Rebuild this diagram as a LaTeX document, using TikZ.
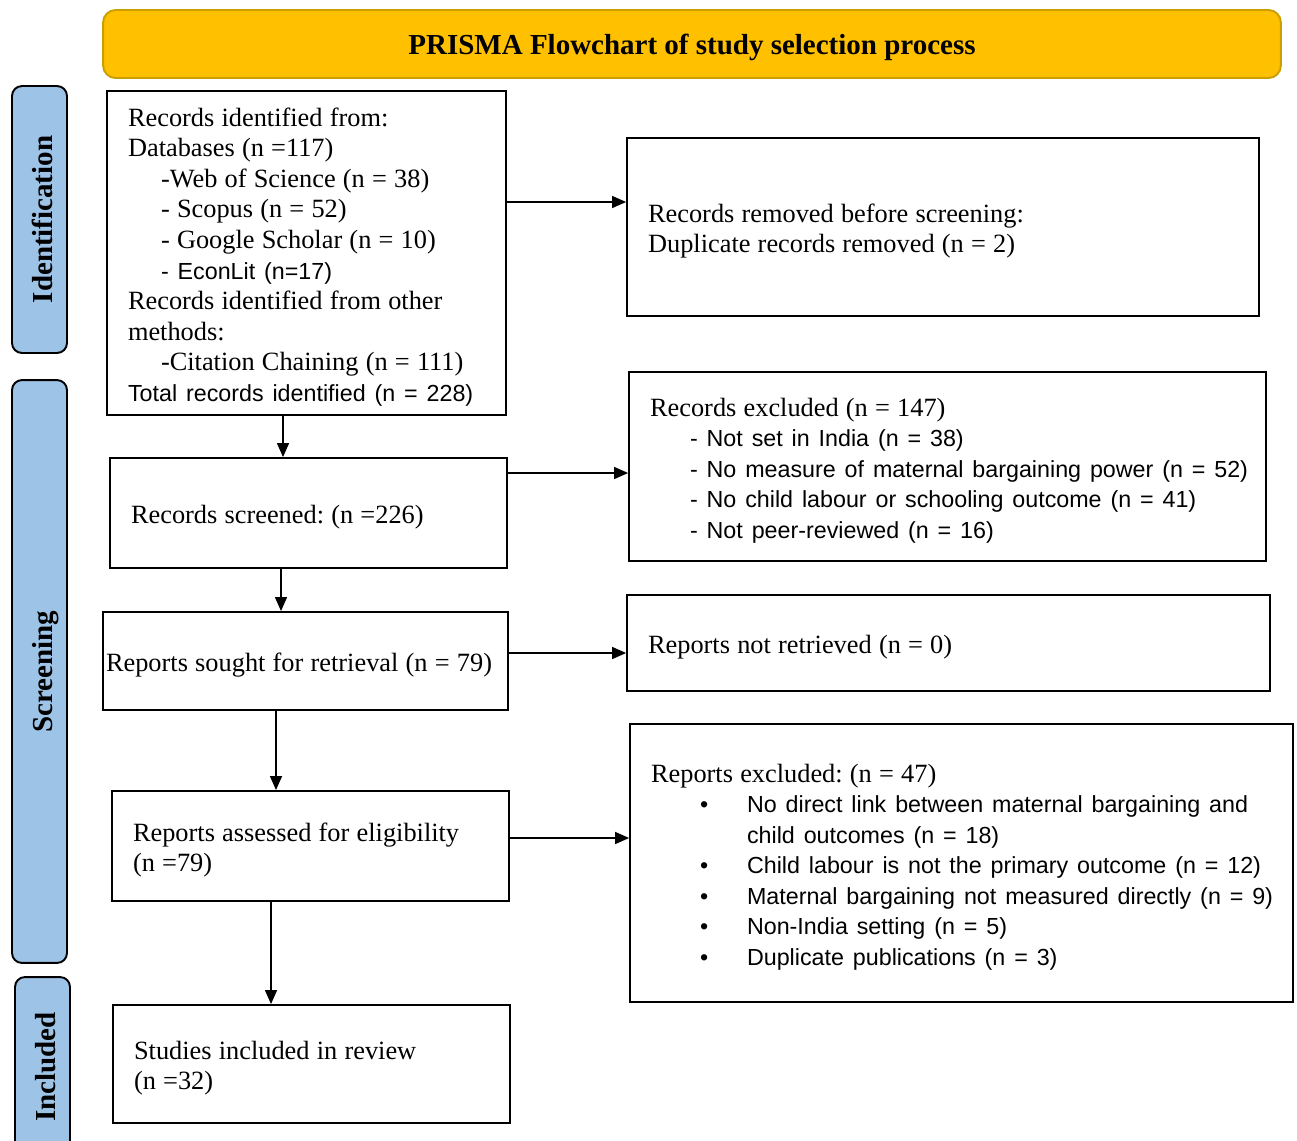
\documentclass[tikz,border=0pt]{standalone}
\usepackage{fontspec}
\setmainfont{Liberation Serif}
\setsansfont{Liberation Sans}
\usepackage{tikz}
\usetikzlibrary{positioning}
\usetikzlibrary{arrows.meta}
\definecolor{titlegold}{HTML}{FFC000}
\definecolor{titleedge}{HTML}{C9A000}
\definecolor{stageblue}{HTML}{9DC3E6}
\frenchspacing
\newcommand{\sanstext}[1]{{\fontsize{13.25}{17.4}\selectfont\sffamily\spaceskip=\dimexpr\fontdimen2\font+1.37pt\relax\mbox{#1}}}
\newcommand{\bulletline}[1]{\sanstext{\hspace*{0.98cm}\makebox[0.94cm][l]{\textbullet}#1}}

\begin{document}
\begin{tikzpicture}[x=0.02cm, y=-0.02cm,
  box/.style={draw, rectangle, line width=1.1pt, align=left, inner xsep=0.42cm, font=\fontsize{15}{17.4}\selectfont, execute at begin node={\spaceskip=4.1pt\relax\rule{0pt}{15pt}}},
  stage/.style={draw, rectangle, rotate=90, rounded corners=0.2cm, fill=stageblue, line width=1.1pt, minimum height=1.1cm, text depth=0pt, font=\fontsize{16.5}{19}\selectfont\bfseries, execute at begin node={\rule{0pt}{14.5pt}}},
  arrow/.style={-{Triangle[length=0.28cm, width=0.24cm]}, line width=0.8pt}]
\useasboundingbox (0,0) rectangle (1297,1140);

\node at (692,44) [draw=titleedge, fill=titlegold, rounded corners=0.25cm, line width=1.1pt, name=Title, minimum width=23.56cm, minimum height=1.36cm, font=\fontsize{16.5}{19}\selectfont\bfseries]{\rule{0pt}{15.7pt}PRISMA Flowchart of study selection process};

% stages
\node at (39.5,219.5) [stage, name=Identification, minimum width=5.34cm]{Identification};
\node at (39.5,671.5) [stage, name=Screening, minimum width=11.66cm]{Screening};
\node at (42.5,1067) [stage, name=Included, minimum width=3.6cm]{Included};

% main column
\node at (306.5,253) [box, name=Identified, text width=7.14cm, minimum height=6.48cm]{Records identified from:\\
Databases (n =117)\\
\hspace*{0.66cm}-Web of Science (n = 38)\\
\hspace*{0.66cm}- Scopus (n = 52)\\
\hspace*{0.66cm}- Google Scholar (n = 10)\\
\sanstext{\hspace*{0.66cm}- EconLit (n=17)}\\
Records identified from other\\
methods:\\
\hspace*{0.66cm}-Citation Chaining (n = 111)\\
\sanstext{Total records identified (n = 228)}};
\node at (308.5,513) [box, name=Screened, text width=7.1cm, minimum height=2.2cm]{Records screened: (n =226)};
\node at (305.5,661) [box, name=Sought, inner xsep=0.06cm, text width=7.98cm, minimum height=1.96cm]{Reports sought for retrieval (n = 79)};
\node at (310.5,846) [box, name=Assessed, text width=7.1cm, minimum height=2.2cm]{Reports assessed for eligibility\\
(n =79)};
\node at (311.5,1064) [box, name=Studies, text width=7.1cm, minimum height=2.36cm]{Studies included in review\\
(n =32)};

% exclusion column
\node at (943,227) [box, name=Removed, text width=11.8cm, minimum height=3.56cm]{Records removed before screening:\\
Duplicate records removed (n = 2)};
\node at (947.5,466.5) [box, name=Excluded, text width=11.9cm, minimum height=3.78cm]{Records excluded (n = 147)\\
\sanstext{\hspace*{0.8cm}- Not set in India (n = 38)}\\
\sanstext{\hspace*{0.8cm}- No measure of maternal bargaining power (n = 52)}\\
\sanstext{\hspace*{0.8cm}- No child labour or schooling outcome (n = 41)}\\
\sanstext{\hspace*{0.8cm}- Not peer-reviewed (n = 16)}};
\node at (948.5,643) [box, name=NotRetrieved, text width=12.02cm, minimum height=1.92cm]{Reports not retrieved (n = 0)};
\node at (961.5,863) [box, name=ReportsExcluded, text width=12.42cm, minimum height=5.56cm]{Reports excluded: (n = 47)\\
\bulletline{No direct link between maternal bargaining and}\\
\sanstext{\hspace*{1.92cm}child outcomes (n = 18)}\\
\bulletline{Child labour is not the primary outcome (n = 12)}\\
\bulletline{Maternal bargaining not measured directly (n = 9)}\\
\bulletline{Non-India setting (n = 5)}\\
\bulletline{Duplicate publications (n = 3)}};

% connectors
\draw [arrow] (Identified.east |- 0,202) -- (Removed.west |- 0,202);
\draw [arrow] (Screened.east |- 0,473) -- (Excluded.west |- 0,473);
\draw [arrow] (Sought.east |- 0,653) -- (NotRetrieved.west |- 0,653);
\draw [arrow] (Assessed.east |- 0,838) -- (ReportsExcluded.west |- 0,838);
\draw [arrow] (Identified.south -| 283,0) -- (Screened.north -| 283,0);
\draw [arrow] (Screened.south -| 281,0) -- (Sought.north -| 281,0);
\draw [arrow] (Sought.south -| 276,0) -- (Assessed.north -| 276,0);
\draw [arrow] (Assessed.south -| 271,0) -- (Studies.north -| 271,0);
\end{tikzpicture}
\end{document}
